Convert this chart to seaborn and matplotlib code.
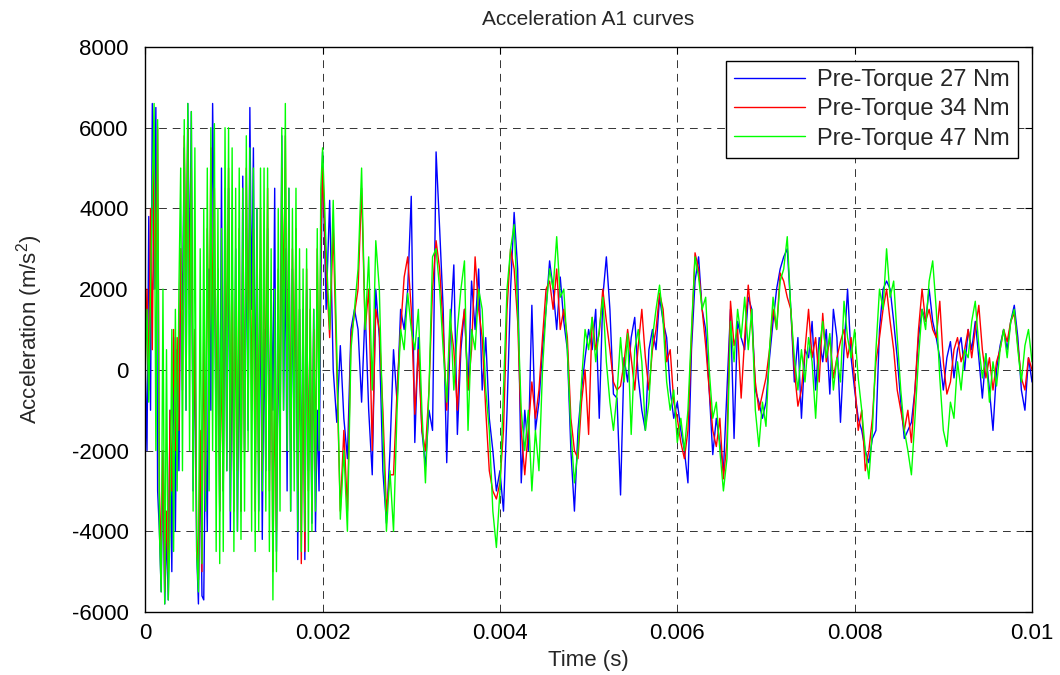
import numpy as np
import pandas as pd
import matplotlib
matplotlib.use("Agg")
import matplotlib.pyplot as plt
import seaborn as sns

# ---------------- data (m/s^2) ----------------
# time grids: fine sampling over first 2 ms, coarser afterwards
t_early = np.arange(100) * 0.00002
t_late = 0.002 + np.arange(201) * 0.00004

blue_early = [
    0, -2000, 3800, -1000, 6600, 2000, 6500, -3000, -4000, -5500,
    -2000, -5800, -4000, -5700, -1000, -5000, 800, -4000, 500, -2500,
    3000, 1500, 5500, -1000, 6600, 2000, 6400, -3000, 1000, -4500,
    -5800, -2000, -5600, -5700, -1500, -4000, 2500, -1000, 6600, 3000,
    -2000, 2500, -3500, 5000, -3000, 3500, -2500, 4500, -4000, 1000,
    -3000, 3000, -4000, 1000, -3500, 4800, -2000, 3500, -1500, 6500,
    1500, 5500, -1500, 4000, -3500, 2500, -4200, 1000, -2500, 3500,
    -2500, 2000, -1000, 4500, -4500, 1000, -2000, 5800, -1000, 3000,
    -3000, 4500, -3500, 2500, -2000, 3000, -4700, 1500, -3000, 1500,
    -4700, 2000, -2500, 500, -3800, 1500, -4000, -1000, -3000, 2000,
]
blue_late = [
    5400, 1500, 4200, 0, -1300, 600, -1200, -2200, 1000, 1500,
    1000, -800, 1500, -1000, -2600, 2000, 800, -2500, -3800, -2000,
    500, -800, 1500, 1000, 2000, 4300, -1800, 800, -1500, -2400,
    -1000, -1500, 5400, 3500, 1500, -2300, 1000, 2600, -1600, 500,
    1500, -500, 2200, 1000, 2500, -500, 800, -1200, -2000, -3000,
    -2500, -3500, -1000, 2000, 3900, 2500, -2800, -1000, -2000, 1600,
    -1500, -800, 500, 1500, 2700, 2000, 1000, 2300, 1200, 500,
    -2000, -3500, -1500, -500, 300, 1000, 500, 1500, -1200, 1800,
    2800, 1500, -600, -700, -3100, 300, -300, 800, 1300, -200,
    -1000, -1500, 500, 1000, 500, 1800, 1200, 800, -500, -1200,
    -800, -1500, -2000, -2800, 500, 2200, 2800, 1500, 1000, -500,
    -2100, -1200, -1800, -2500, -500, 1500, -1700, 1200, 800, 500,
    1800, 1500, -500, -800, -1200, -800, 300, 1200, 2000, 2500,
    2800, 3000, 1500, -300, 800, -1200, 500, 300, 1200, -500,
    800, 200, 1000, -600, 1500, 800, -1300, 500, 2000, 300,
    -500, -1200, -1500, -2000, -2300, -1700, -1500, 1000, 2000, 2200,
    2000, 1200, 300, -800, -1700, -1500, -1300, -500, 800, 1500,
    1200, 2000, 1200, 800, 300, -500, 300, 700, -200, 500,
    800, 0, 1000, 500, 1200, 300, -700, 400, -500, -1500,
    0, 600, 1000, 500, 1200, 1600, 800, -500, -1000, 300,
    -300,
]

red_early = [
    0, 2000, -500, 4000, 500, 5500, 2000, 6000, -3000, -4500,
    -2000, -5500, -3500, -5000, -1000, -3000, 1000, -2000, 800, -1500,
    3000, -500, 5800, 2000, 6000, 1500, 5000, -2000, 1000, -4000,
    -5200, -1500, -5000, 1000, -3000, 3500, -500, 5500, 1000, 4500,
    -1500, 2500, -3500, 500, -3000, 4500, -500, 5000, -2500, 3000,
    -3500, 2000, -2500, 3500, -3500, 3000, -2000, 5000, 500, 4000,
    -1000, 3500, -3500, 2500, -2500, 4000, -2500, 3500, -1000, 4500,
    -3000, 1500, -5000, -500, -4000, 2500, -2000, 5000, 1500, 5800,
    -500, 3500, -2000, 3000, -500, 3500, -3000, 1500, -4800, 1000,
    -4500, 2500, -3000, 1500, -3500, 1000, -2500, 3000, -1000, 3000,
]
red_late = [
    5000, 2500, 800, 3500, 0, -3500, -1500, -3500, 800, 1400,
    2000, 4500, 1000, 2000, -2000, 1500, 1000, -1000, -3500, -2600,
    -2600, -500, 1000, 2300, 2800, 1500, -1100, 500, -1500, -2000,
    -500, 2000, 3200, 2500, 1000, -1000, 1200, 500, -1000, 800,
    1500, -500, 500, 2800, 1500, 800, -1000, -2500, -3000, -3200,
    -2800, -1500, 1500, 3000, 2500, 1200, -1500, -2600, -1500, -300,
    -1200, -500, 800, 2000, 2200, 1500, 2500, 1000, 1500, 800,
    -1200, -2000, -2200, -800, 0, -1600, 1300, 500, 900, 2000,
    1200, 500, -300, -500, -400, 200, 1000, 300, -500, 600,
    1500, 300, -500, 500, 1000, 1900, 1500, 200, 500, -800,
    -1200, -1800, -2200, -1500, 800, 2900, 2500, 1500, 600, -500,
    -1500, -1900, -1200, -2700, -1800, 1700, 600, 1000, -700, 800,
    2100, 1200, -300, -1000, -600, -200, 500, 1500, 1000, 2400,
    2200, 1800, 1500, 0, -900, -500, 500, 1500, 300, 800,
    -300, 1400, 200, 800, -200, 300, 700, 1000, 300, 800,
    -300, -1500, -1000, -2500, -2000, -1200, 200, 800, 1500, 2000,
    1200, 500, -500, -1000, -1500, -1000, -1800, -500, 1000, 2000,
    1200, 1500, 1000, 800, 1700, 200, -600, -300, 500, 800,
    200, 500, 1000, 300, 1000, 1600, 500, -200, 300, -500,
    200, 500, 1000, 700, 1200, 1400, 600, -200, -500, 300,
    0,
]

green_early = [
    0, 1500, -800, 2000, 4500, 6600, -2000, 6200, -4000, -5500,
    2000, -5800, 500, -5700, -4000, 1000, -4500, 1500, -3000, 2000,
    5000, -2500, 6200, -1000, 6600, -2000, 6400, -3500, 5500, -4500,
    -5500, 3000, -4800, 4000, -3500, 5000, -3000, 6000, -2000, 6100,
    -4500, 4000, -4800, 3500, -4500, 6000, -2500, 6000, -3500, 5500,
    -4500, 4500, -4000, 5000, -4200, 4500, -3500, 5800, -2000, 5500,
    -4000, 5000, -4500, 4000, -4000, 5000, -3000, 5000, -3500, 5000,
    -4500, 3000, -5700, 2000, -5000, 4000, -3500, 6000, -1000, 6600,
    -2000, 4500, -3500, 4000, -3000, 4500, -4000, 3000, -4500, 2500,
    -4000, 3000, -4500, 2000, -4000, 1500, -3500, 3500, -2000, 4500,
]
green_late = [
    5500, 3000, 1000, 4200, 500, -3700, -2000, -4000, 500, 1500,
    2500, 5000, 1000, 2800, -500, 3200, 2000, -1500, -4000, -2500,
    -4000, -1000, 1000, 500, 1900, 1000, 500, 1500, -1000, -2800,
    -500, 2800, 3000, 2000, 500, -800, 1500, -500, 1000, 2000,
    2700, -1500, 1000, 500, 2000, 1500, -500, -1500, -3500, -4400,
    -3000, -500, 2000, 3000, 3600, 1500, -1000, -2000, -1000, -3000,
    -1500, -2500, 0, 1500, 2500, 2000, 3300, 1800, 2000, 500,
    -1500, -2800, -2000, -300, 1000, 500, 1300, 200, 1000, 1800,
    200, -800, -1500, -600, 800, -300, 900, -1600, 500, 1000,
    200, -1500, -800, 800, 1500, 2100, 1200, -300, -1000, -500,
    -1800, -1200, -2000, -1000, 1000, 2800, 2300, 1500, 1800, 0,
    -1200, -800, -2000, -3000, -2200, 1200, 200, 1500, 800, 1800,
    500, 1500, -1000, -1900, -800, -1400, 500, 1800, 1000, 2200,
    2500, 3300, 1500, 300, -500, 500, -300, 800, 200, -1200,
    500, 1200, 300, 900, -500, 300, -300, 1700, 800, 300,
    1000, -200, -1000, -2000, -2700, -1500, 500, 2000, 1500, 3000,
    1800, 2200, 800, -500, -1500, -2000, -2600, -1200, 300, 1500,
    1000, 2200, 2700, 1500, -200, -1500, -1900, -800, -1200, 200,
    -500, 500, 300, 1200, 1700, 600, -200, 400, -800, 200,
    -400, 500, 1000, 300, 1200, 1500, 500, -300, 600, 1000,
    200,
]

labels = ["Pre-Torque 27 Nm", "Pre-Torque 34 Nm", "Pre-Torque 47 Nm"]
colors = ["#0000ff", "#ff0000", "#00ff00"]
xticks = [0, 0.002, 0.004, 0.006, 0.008, 0.01]
xticklabels = ["0", "0.002", "0.004", "0.006", "0.008", "0.01"]
yticks = [-6000, -4000, -2000, 0, 2000, 4000, 6000, 8000]
yticklabels = ["-6000", "-4000", "-2000", "0", "2000", "4000", "6000", "8000"]

t = np.concatenate([t_early, t_late])
series = [
    np.array(blue_early + blue_late, dtype=float),
    np.array(red_early + red_late, dtype=float),
    np.array(green_early + green_late, dtype=float),
]

# ---------------- plot ----------------
sns.set_theme(style="white")
plt.rcParams['font.family'] = ['Liberation Sans', 'DejaVu Sans']
plt.rcParams['mathtext.fontset'] = 'custom'
plt.rcParams['mathtext.rm'] = 'Liberation Sans'

fig = plt.figure(figsize=(10.6, 6.75), dpi=100)
ax = fig.add_axes([0.137, 0.0933, 0.8366, 0.8371])

for vals, lab, col in zip(series, labels, colors):
    df = pd.DataFrame({"t": t, "a": vals})
    sns.lineplot(data=df, x="t", y="a", ax=ax, color=col, lw=1.0,
                 label=lab, estimator=None, sort=False)

ax.set_xlim(0, 0.01)
ax.set_ylim(-6000, 8000)
ax.set_xticks(xticks)
ax.set_xticklabels(xticklabels)
ax.set_yticks(yticks)
ax.set_yticklabels(yticklabels)
ax.tick_params(direction='in', top=True, right=True, length=5, width=0.8,
               labelsize=16, colors='black')
ax.tick_params(axis='y', pad=12)
ax.tick_params(axis='x', pad=8)
ax.grid(True, color='0.2', linestyle=(0, (8, 6)), lw=0.7)
for s in ax.spines.values():
    s.set_color('black')
    s.set_linewidth(1.0)

ax.set_title("Acceleration A1 curves", fontsize=15, pad=16)
ax.set_xlabel("Time (s)", fontsize=16)
ax.set_ylabel("Acceleration (m/s$^2$)", fontsize=16)
ax.xaxis.label.set_va('center')
ax.xaxis.set_label_coords(0.5, -0.085)
ax.yaxis.label.set_va('center')
ax.yaxis.set_label_coords(-0.13, 0.5)

leg = ax.legend(loc='upper right', frameon=True, fancybox=False,
                edgecolor='black', fontsize=17, handlelength=3.0,
                borderaxespad=0.6, labelspacing=0.3, borderpad=0.35,
                handletextpad=0.5)
leg.get_frame().set_linewidth(1.0)
leg.get_frame().set_facecolor('white')
leg.get_frame().set_alpha(1)

fig.savefig("out.png", dpi=100)
